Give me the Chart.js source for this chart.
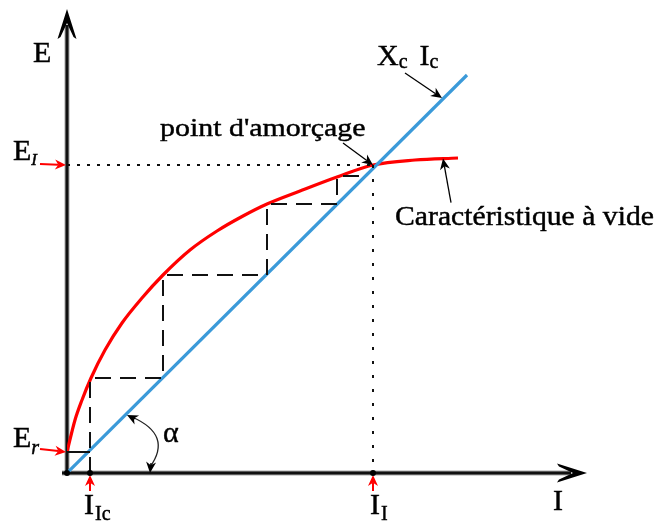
<!DOCTYPE html>
<html>
<head>
<meta charset="utf-8">
<script src="https://cdn.jsdelivr.net/npm/chart.js@4.4.0/dist/chart.umd.min.js"></script>
<style>
html,body{margin:0;padding:0;background:#fff}
</style>
</head>
<body>
<canvas id="grafico" width="660" height="522"></canvas>
<script>
// caracteristique a vide E(I) (unites arbitraires)
const courbeI = [0, 2, 3.75, 6, 9.5, 13.75, 18.75, 24, 30.75, 37.5, 44, 50, 58.25, 67.5, 76.5, 87, 97.75];
const courbeE = [5.25, 13.25, 18.25, 23.75, 30.75, 37.5, 43.75, 49.5, 55.75, 60.5, 64.25, 67.25, 70.5, 74, 77, 78.25, 78.75];
// droite Xc.Ic
const droiteI = [0, 100];
const droiteE = [0, 99.5];
// escalier d'amorcage
const escalierI = [5.75, 5.75, 24, 24, 50, 50, 67.5, 67.5, 73];
const escalierE = [0, 23.75, 23.75, 49.5, 49.5, 67.25, 67.25, 74.25, 74.25];
// reperes sur les axes
const Er = 5.25;
const IIc = 5.75;
const EI = 77;
const II = 76.5;
const maxI = 130;
const maxE = 116;

function points(xs, ys) {
    return xs.map((x, k) => ({x: x, y: ys[k]}));
}

function ecrire(ctx, str, x, y, taille, sx, italique) {
    ctx.save();
    ctx.font = (italique ? 'italic ' : '') + taille + 'px "Liberation Serif", "Times New Roman", serif';
    ctx.fillStyle = '#000';
    ctx.strokeStyle = '#000';
    ctx.lineWidth = 0.45;
    ctx.textBaseline = 'alphabetic';
    ctx.translate(x, y);
    ctx.scale(sx, 1);
    ctx.fillText(str, 0, 0);
    ctx.strokeText(str, 0, 0);
    const w = ctx.measureText(str).width * sx;
    ctx.restore();
    return x + w;
}

function fleche(ctx, x1, y1, x2, y2, couleur, larg, lg, demi) {
    const a = Math.atan2(y2 - y1, x2 - x1);
    ctx.save();
    ctx.strokeStyle = couleur;
    ctx.fillStyle = couleur;
    ctx.lineWidth = larg;
    ctx.beginPath();
    ctx.moveTo(x1, y1);
    ctx.lineTo(x2 - Math.cos(a) * lg * 0.7, y2 - Math.sin(a) * lg * 0.7);
    ctx.stroke();
    ctx.translate(x2, y2);
    ctx.rotate(a);
    ctx.beginPath();
    ctx.moveTo(0, 0);
    ctx.lineTo(-lg, -demi);
    ctx.lineTo(-lg * 0.7, 0);
    ctx.lineTo(-lg, demi);
    ctx.closePath();
    ctx.fill();
    ctx.restore();
}

function pointe(ctx, x, y, angle) {
    ctx.save();
    ctx.translate(x, y);
    ctx.rotate(angle);
    ctx.fillStyle = '#000';
    ctx.beginPath();
    ctx.moveTo(0, 0);
    ctx.lineTo(-30, -9.5);
    ctx.lineTo(-28, -6.5);
    ctx.lineTo(-14, 0);
    ctx.lineTo(-28, 6.5);
    ctx.lineTo(-30, 9.5);
    ctx.closePath();
    ctx.fill();
    ctx.restore();
}

function rond(ctx, x, y, r) {
    ctx.beginPath();
    ctx.arc(x, y, r, 0, Math.PI * 2);
    ctx.fillStyle = '#000';
    ctx.fill();
}

const axes = {
    id: 'axes',
    beforeDatasetsDraw(chart) {
        const ctx = chart.ctx;
        const xs = chart.scales.x, ys = chart.scales.y;
        const x0 = xs.getPixelForValue(0), y0 = ys.getPixelForValue(0);
        const xMax = xs.getPixelForValue(maxI), yMax = ys.getPixelForValue(maxE);
        ctx.save();
        ctx.strokeStyle = 'rgba(0,0,0,0.35)';
        ctx.lineWidth = 5;
        ctx.beginPath();
        ctx.moveTo(x0 - 5, y0); ctx.lineTo(xMax - 16, y0);
        ctx.moveTo(x0, y0 + 2); ctx.lineTo(x0, yMax + 16);
        ctx.stroke();
        ctx.strokeStyle = '#111';
        ctx.lineWidth = 3;
        ctx.stroke();
        ctx.restore();
        pointe(ctx, xMax, y0, 0);
        pointe(ctx, x0, yMax, -Math.PI / 2);
    },
    afterDatasetsDraw(chart) {
        const ctx = chart.ctx;
        const xs = chart.scales.x, ys = chart.scales.y;
        const x0 = xs.getPixelForValue(0), y0 = ys.getPixelForValue(0);
        const pEI = ys.getPixelForValue(EI), pEr = ys.getPixelForValue(Er);
        const pII = xs.getPixelForValue(II), pIIc = xs.getPixelForValue(IIc);

        // reperes rouges
        fleche(ctx, x0 - 27, pEI - 1, x0 - 1, pEI, '#f00', 2, 11, 5);
        fleche(ctx, x0 - 27, pEr - 3, x0 - 1, pEr, '#f00', 2, 11, 5);
        fleche(ctx, pIIc, y0 + 18, pIIc, y0 + 2, '#f00', 2, 11, 5);
        fleche(ctx, pII, y0 + 18, pII, y0 + 2, '#f00', 2, 11, 5);

        rond(ctx, x0, y0, 3);
        rond(ctx, pIIc, y0, 3);
        rond(ctx, pII, y0, 3);

        // fleches des legendes
        fleche(ctx, pII - 30, pEI - 22, pII, pEI, '#000', 1.3, 11, 5);
        const xc = xs.getPixelForValue(93.75);
        fleche(ctx, xc - 37, ys.getPixelForValue(93.75) - 25, xc, ys.getPixelForValue(93.75), '#000', 1.3, 11, 5);
        const xv = xs.getPixelForValue(94);
        fleche(ctx, xv + 8, ys.getPixelForValue(78.6) + 44, xv, ys.getPixelForValue(78.6), '#000', 1.3, 11, 5);

        // angle alpha
        const ax = x0 + 60, ay = y0 - 58;
        ctx.save();
        ctx.strokeStyle = '#222';
        ctx.lineWidth = 1.3;
        ctx.beginPath();
        ctx.moveTo(ax + 5, ay + 2);
        ctx.quadraticCurveTo(x0 + 106, y0 - 38, x0 + 83, y0 - 6);
        ctx.stroke();
        ctx.restore();
        fleche(ctx, ax + 8, ay + 4, ax, ay, '#000', 1.3, 11, 5);
        fleche(ctx, x0 + 84, y0 - 10, x0 + 83, y0, '#000', 1.3, 11, 5);

        // textes
        ecrire(ctx, 'E', 33, 62, 30, 1, false);
        let x = ecrire(ctx, 'E', 13, pEI - 5, 30, 1, false);
        ecrire(ctx, 'I', x, pEI, 17, 1, true);
        x = ecrire(ctx, 'E', 13, pEr - 5, 30, 1, false);
        ecrire(ctx, 'r', x, pEr + 2, 20, 1, true);
        x = ecrire(ctx, 'I', pIIc - 6, 514, 30, 1, false);
        ecrire(ctx, 'Ic', x + 1, 520, 20, 1, false);
        x = ecrire(ctx, 'I', pII - 3, 514, 30, 1, false);
        ecrire(ctx, 'I', x + 1, 520, 20, 1, false);
        ecrire(ctx, 'I', 553, 510, 30, 1, false);
        x = ecrire(ctx, 'X', 377, 65, 30, 1, false);
        x = ecrire(ctx, 'c', x, 68, 20, 1, false);
        x = ecrire(ctx, 'I', x + 12, 65, 30, 1, false);
        ecrire(ctx, 'c', x, 68, 20, 1, false);
        ecrire(ctx, 'α', 163, 442, 30, 1, false);
        ecrire(ctx, "point d'amorçage", 160, 136, 26, 1.15, false);
        ecrire(ctx, 'Caractéristique à vide', 395, 225, 27, 1.1, false);
    }
};

const data = {
    datasets: [
        {
            label: 'escalier',
            data: points(escalierI, escalierE),
            borderColor: '#111',
            borderWidth: 2,
            borderDash: [16, 9],
            showLine: true,
            pointRadius: 0
        },
        {
            label: 'Er',
            data: points([0, IIc], [Er, Er]),
            borderColor: '#111',
            borderWidth: 2,
            showLine: true,
            pointRadius: 0
        },
        {
            label: 'EI',
            data: points([0, II], [EI, EI]),
            borderColor: '#111',
            borderWidth: 2,
            borderDash: [3, 7],
            showLine: true,
            pointRadius: 0
        },
        {
            label: 'II',
            data: points([II, II], [EI, 0]),
            borderColor: '#111',
            borderWidth: 2,
            borderDash: [3, 11],
            showLine: true,
            pointRadius: 0
        },
        {
            label: 'Xc Ic',
            data: points(droiteI, droiteE),
            borderColor: '#3b9ad9',
            borderWidth: 3.2,
            showLine: true,
            pointRadius: 0
        },
        {
            label: 'Caractéristique à vide',
            data: points(courbeI, courbeE),
            borderColor: '#ff0000',
            borderWidth: 3.2,
            showLine: true,
            cubicInterpolationMode: 'monotone',
            pointRadius: 0
        }
    ]
};

const config = {
    type: 'scatter',
    data: data,
    options: {
        responsive: false,
        animation: false,
        layout: {padding: {left: 67, right: 73, top: 9, bottom: 49}},
        plugins: {
            legend: {display: false},
            tooltip: {enabled: false}
        },
        scales: {
            x: {type: 'linear', min: 0, max: maxI, display: false},
            y: {type: 'linear', min: 0, max: maxE, display: false}
        }
    },
    plugins: [axes]
};

new Chart(document.getElementById('grafico').getContext('2d'), config);
</script>
</body>
</html>
